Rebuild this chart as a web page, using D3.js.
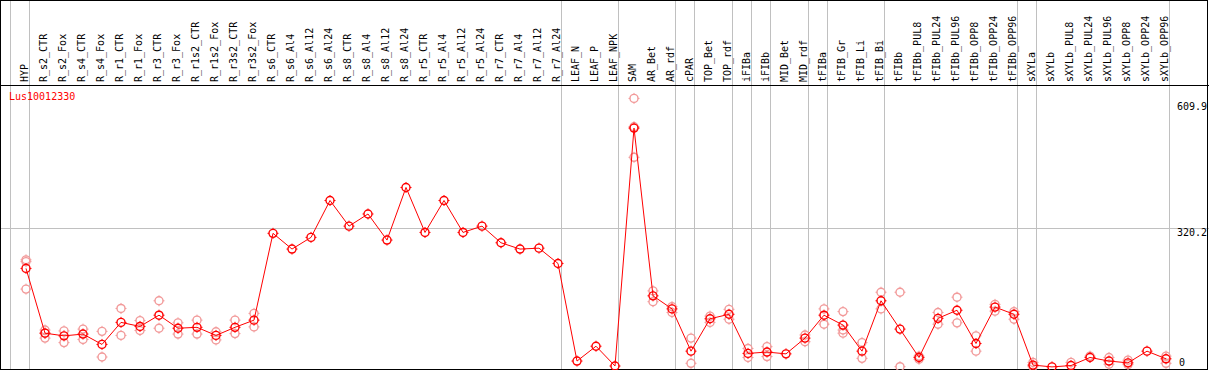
<!DOCTYPE html>
<html>
<head>
  <title>Lus10012330</title>
  <script src="https://d3js.org/d3.v7.min.js"></script>
  <style>
    body { margin: 0; background: #fff; }
    text { font-family: "DejaVu Sans Mono", monospace; font-size: 10px; }
  </style>
</head>
<body>
  <svg width="1209" height="370"></svg>
  <script>
    // sample names, in drawing order
    var samples = ["HYP", "R_s2_CTR", "R_s2_Fox", "R_s4_CTR", "R_s4_Fox", "R_r1_CTR", "R_r1_Fox",
      "R_r3_CTR", "R_r3_Fox", "R_r1s2_CTR", "R_r1s2_Fox", "R_r3s2_CTR", "R_r3s2_Fox",
      "R_s6_CTR", "R_s6_Al4", "R_s6_Al12", "R_s6_Al24", "R_s8_CTR", "R_s8_Al4", "R_s8_Al12", "R_s8_Al24",
      "R_r5_CTR", "R_r5_Al4", "R_r5_Al12", "R_r5_Al24", "R_r7_CTR", "R_r7_Al4", "R_r7_Al12", "R_r7_Al24",
      "LEAF_N", "LEAF_P", "LEAF_NPK", "SAM", "AR_Bet", "AR_rdf", "cPAR", "TOP_Bet", "TOP_rdf",
      "iFIBa", "iFIBb", "MID_Bet", "MID_rdf", "tFIBa", "tFIB_Gr", "tFIB_Li", "tFIB_Bi",
      "tFIBb", "tFIBb_PUL8", "tFIBb_PUL24", "tFIBb_PUL96", "tFIBb_OPP8", "tFIBb_OPP24", "tFIBb_OPP96",
      "sXYLa", "sXYLb", "sXYLb_PUL8", "sXYLb_PUL24", "sXYLb_PUL96", "sXYLb_OPP8", "sXYLb_OPP24", "sXYLb_OPP96"];

    // mean expression per sample
    var means = [231, 87, 81, 85, 62, 111, 102, 127, 98, 100, 82, 100, 116,
      309, 274, 300, 382, 325, 352, 294, 411, 311, 382, 311, 325, 288, 274, 276, 242,
      25, 58, 14, 543, 170, 141, 47, 119, 129, 42, 45, 41, 76, 127, 105, 47, 159,
      96, 33, 120, 138, 64, 145, 129, 16, 12, 15, 33, 25, 21, 47, 30];

    // individual replicates (where visible apart from the mean)
    var reps = [[250, 246, 185], [94, 76, 87], [92, 66], [96, 73], [91, 34], [142, 82], [115, 93],
      [159, 98], [110, 85], [116, 85], [90, 72], [116, 86], [131, 101],
      [], [], [], [], [], [], [], [], [], [], [], [], [], [], [], [],
      [], [], [], [609, 546, 478], [181, 157], [146, 133], [76, 20], [125, 111], [140, 118],
      [53, 33], [57, 35], [], [83, 68], [141, 107], [135, 87, 94], [66, 31], [178, 141],
      [178, 12.5], [36, 29], [133, 107], [167, 110], [81, 47], [151, 136], [135, 118],
      [22, 12.5], [], [22], [36], [33, 18], [27, 17], [], [36, 20]];

    // group separators come after these samples
    var dividers = ["HYP", "R_r7_Al24", "LEAF_NPK", "AR_rdf", "cPAR", "TOP_rdf", "iFIBa", "iFIBb",
      "MID_rdf", "tFIBa", "tFIB_Bi", "tFIBb_OPP96", "sXYLa", "sXYLb_OPP96"];

    var geneName = "Lus10012330";
    var yTicks = [609.9, 320.2, 0];

    var svg = d3.select("svg"),
        W = +svg.attr("width"), H = +svg.attr("height"),
        headerH = 85;

    var x = d3.scaleBand().domain(samples).range([10.7, 10.7 + 19 * samples.length]);
    var px = function(s) { return x(s) + 15.3; };
    var y = d3.scaleLinear().domain([0, 609.9]).range([372.3, 98]);

    var gray = "#c0c0c0";
    var crisp = function(v) { return Math.floor(v) + 0.5; };

    // vertical separators (first one before HYP)
    svg.append("line")
      .attr("x1", crisp(x(samples[0]))).attr("x2", crisp(x(samples[0])))
      .attr("y1", 0).attr("y2", H).attr("stroke", gray);
    svg.selectAll(".sep")
      .data(dividers)
      .enter().append("line")
      .attr("class", "sep")
      .attr("x1", function(d) { return crisp(x(d) + x.bandwidth()); })
      .attr("x2", function(d) { return crisp(x(d) + x.bandwidth()); })
      .attr("y1", 0).attr("y2", H)
      .attr("stroke", gray);

    // middle horizontal grid line
    svg.append("line")
      .attr("x1", 0).attr("x2", W)
      .attr("y1", crisp(y(320.2))).attr("y2", crisp(y(320.2)))
      .attr("stroke", gray);

    // frame and header divider
    svg.append("rect")
      .attr("x", 0.5).attr("y", 0.5).attr("width", 1207).attr("height", 369)
      .attr("fill", "none").attr("stroke", "#000");
    svg.append("line")
      .attr("x1", 0).attr("x2", W).attr("y1", headerH + 0.5).attr("y2", headerH + 0.5)
      .attr("stroke", "#000");

    // rotated sample labels
    svg.selectAll(".lab")
      .data(samples)
      .enter().append("text")
      .attr("class", "lab")
      .attr("transform", function(d) { return "translate(" + (px(d) + 2) + "," + (headerH - 3) + ") rotate(-90)"; })
      .text(function(d) { return d; });

    // y labels
    svg.selectAll(".ylab")
      .data(yTicks)
      .enter().append("text")
      .attr("class", "ylab")
      .attr("x", function(d) { return d === 0 ? 1179 : 1207; })
      .attr("y", function(d) {
        if (d === 0) return 366;
        return y(d) + (d === yTicks[0] ? 12 : 8);
      })
      .attr("text-anchor", function(d) { return d === 0 ? "start" : "end"; })
      .text(function(d) { return d; });

    svg.append("text")
      .attr("x", 9).attr("y", 100)
      .attr("fill", "red")
      .text(geneName);

    // marker: circle with small ticks
    function marker(sel, color) {
      sel.append("circle").attr("r", 4).attr("fill", "none")
        .attr("stroke", color).attr("stroke-width", 1.4);
      sel.append("path")
        .attr("d", "M0,-5.5V-4M0,4V5.5M-5.5,0H-4M4,0H5.5")
        .attr("stroke", color).attr("stroke-width", 1);
    }

    // replicate points
    var repPts = [];
    reps.forEach(function(r, i) {
      r.forEach(function(v) { repPts.push({s: samples[i], v: v}); });
    });
    svg.selectAll(".rep")
      .data(repPts)
      .enter().append("g")
      .attr("class", "rep")
      .attr("transform", function(d) { return "translate(" + px(d.s) + "," + y(d.v) + ")"; })
      .call(marker, "#f29a9a");

    // mean line
    var line = d3.line()
      .x(function(d, i) { return px(samples[i]); })
      .y(function(d) { return y(d); });
    svg.append("path")
      .datum(means)
      .attr("d", line)
      .attr("fill", "none")
      .attr("stroke", "red")
      .attr("stroke-width", 1);

    svg.selectAll(".mean")
      .data(means)
      .enter().append("g")
      .attr("class", "mean")
      .attr("transform", function(d, i) { return "translate(" + px(samples[i]) + "," + y(d) + ")"; })
      .call(marker, "red");
  </script>
</body>
</html>
